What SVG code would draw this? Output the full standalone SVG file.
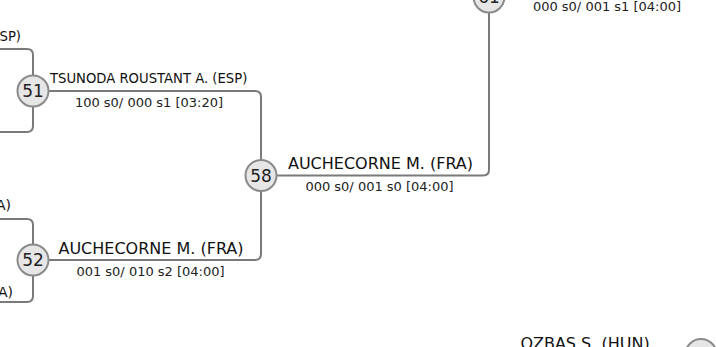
<svg xmlns="http://www.w3.org/2000/svg" width="716" height="347" viewBox="0 0 716 347">
<style>
.ln{fill:none;stroke:#7a7a7a;stroke-width:2}
.nd{fill:#e6e6e6;stroke:#8a8a8a;stroke-width:2}
.num{font-family:"DejaVu Sans",sans-serif;font-size:17px;fill:#222;text-anchor:middle}
.nm{font-family:"DejaVu Sans",sans-serif;font-size:16px;fill:#111}
.sm{font-size:13.2px}
.md{font-size:14px}
.sc{font-family:"DejaVu Sans",sans-serif;font-size:13px;fill:#222;text-anchor:middle}
</style>
<rect width="716" height="347" fill="#fff"/>
<g id="connectors">
<path class="ln" d="M0,49 H27 Q33,49 33,55 V75.5"/>
<path class="ln" d="M33,106.5 V126 Q33,132 27,132 H0"/>
<path class="ln" d="M48.5,91 H255 Q261,91 261,97 V159.5"/>
<path class="ln" d="M0,219 H27 Q33,219 33,225 V244.5"/>
<path class="ln" d="M33,275.5 V296 Q33,302 27,302 H0"/>
<path class="ln" d="M48.5,260 H255 Q261,260 261,254 V191.5"/>
<path class="ln" d="M276.5,175.5 H483 Q489,175.5 489,169.5 V11.5"/>
</g>
<g id="labels">
<text class="nm sm" x="21" y="41" text-anchor="end">SP)</text>
<text class="nm md" x="11" y="210" text-anchor="end">A)</text>
<text class="nm md" x="13" y="297" text-anchor="end">A)</text>
</g>
<g id="n51">
<circle class="nd" cx="33" cy="91" r="15.5"/>
<text class="num" x="33" y="97">51</text>
<text class="nm sm" x="50" y="83">TSUNODA ROUSTANT A. (ESP)</text>
<text class="sc" x="149" y="107">100 s0/ 000 s1 [03:20]</text>
</g>
<g id="n52">
<circle class="nd" cx="33" cy="260" r="15.5"/>
<text class="num" x="33" y="266">52</text>
<text class="nm" x="151" y="254" text-anchor="middle">AUCHECORNE M. (FRA)</text>
<text class="sc" x="150.5" y="276">001 s0/ 010 s2 [04:00]</text>
</g>
<g id="n58">
<circle class="nd" cx="261" cy="175.5" r="15.5"/>
<text class="num" x="261" y="181.5">58</text>
<text class="nm" x="380.5" y="169" text-anchor="middle">AUCHECORNE M. (FRA)</text>
<text class="sc" x="379.5" y="191">000 s0/ 001 s0 [04:00]</text>
</g>
<g id="n61">
<circle class="nd" cx="489" cy="-3" r="15.5"/>
<text class="num" x="489" y="3">61</text>
<text class="sc" x="607" y="11">000 s0/ 001 s1 [04:00]</text>
</g>
<g id="nbr">
<circle class="nd" cx="701" cy="354.5" r="15.5"/>
<text class="nm" x="585" y="349" text-anchor="middle">OZBAS S. (HUN)</text>
</g>
</svg>
